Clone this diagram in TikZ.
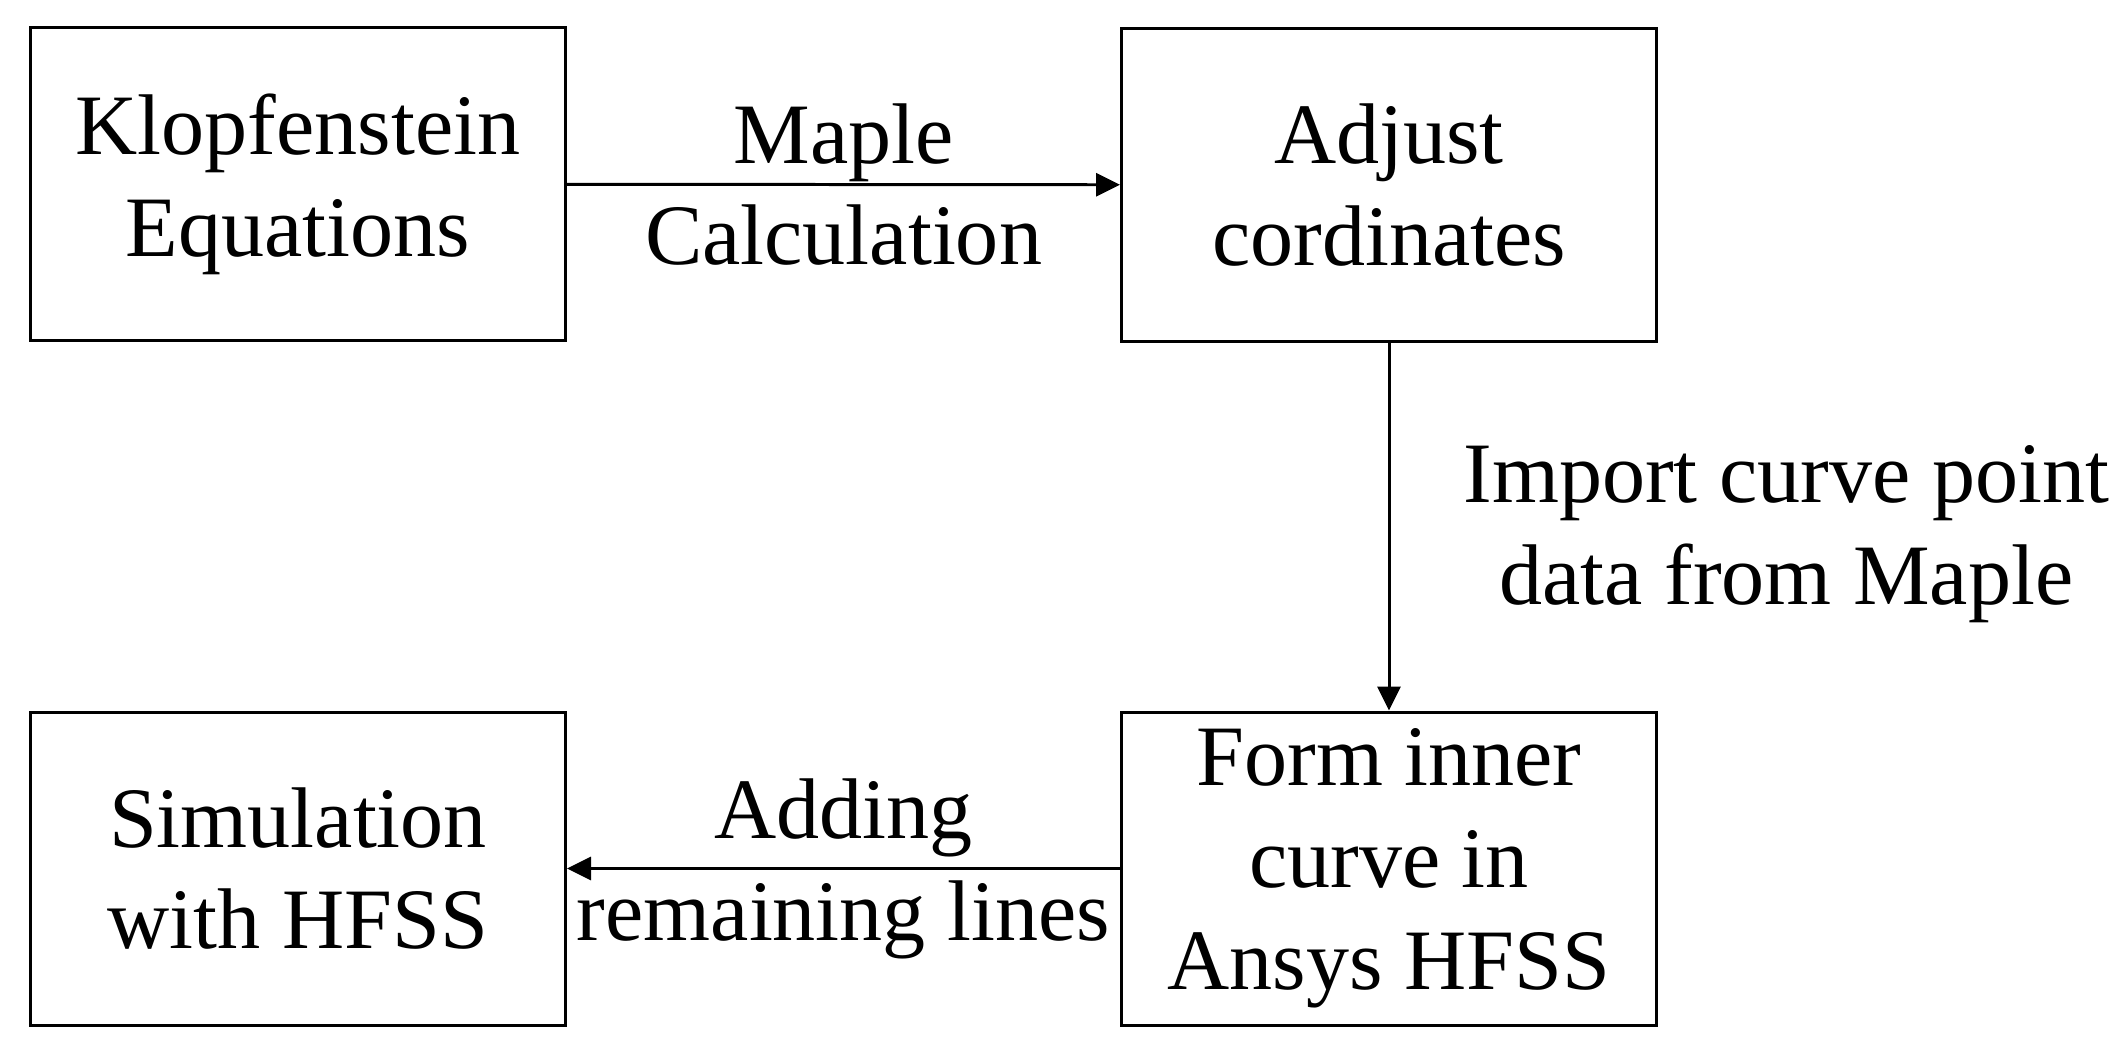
\documentclass[tikz,border=0pt]{standalone}
\usepackage{fontspec}
\setmainfont{Liberation Serif}
\usetikzlibrary{arrows.meta,positioning}
\begin{document}
\begin{tikzpicture}[
		stepbox/.style={draw, line width=0.85pt, minimum width=5.35cm, minimum height=3.13cm, align=center, inner sep=0pt},
		lbl/.style={align=center, inner sep=0pt},
		arr/.style={-{Triangle[length=0.24cm,width=0.23cm]}, line width=0.85pt},
		font=\fontsize{24.5}{29}\selectfont
	]
		\useasboundingbox (0,0) rectangle (21.24,-10.55);

		\node[stepbox] (klop) at (2.98,-1.84) {Klopfenstein\\Equations};
		\node[stepbox] (adj) at (13.89,-1.85) {Adjust\\cordinates};
		\node[stepbox] (form) at (13.89,-8.685) {Form inner\\curve in\\Ansys HFSS};
		\node[stepbox] (sim) at (2.98,-8.685) {Simulation\\with HFSS};

		\draw[arr] (klop) -- node[lbl] {Maple\\Calculation} (adj);
		\draw[arr] (adj) -- node[lbl, right=0.73cm, yshift=-0.07cm] {Import curve point\\data from Maple} (form);
		\draw[arr] (form) -- node[lbl] {Adding\\remaining lines} (sim);
	\end{tikzpicture}
\end{document}
